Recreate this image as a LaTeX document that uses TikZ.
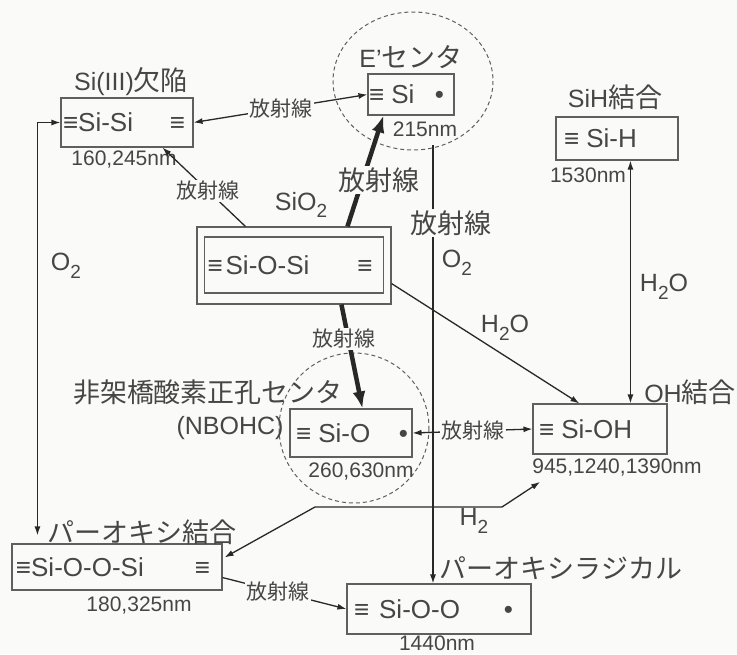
\documentclass[tikz,border=0pt]{standalone}
\usepackage{fontspec}
\setmainfont{Liberation Sans}
\newfontfamily\jp{Noto Sans CJK JP}
\usetikzlibrary{arrows.meta,calc}
\definecolor{bg}{RGB}{250,250,248}
\definecolor{ink}{RGB}{70,70,70}
\definecolor{ln}{RGB}{40,40,40}
\definecolor{bord}{RGB}{95,95,95}
\newcommand\fsz[1]{\fontsize{#1}{#1}\selectfont}
\newcommand\sbs[1]{\raisebox{-0.3em}{\fsz{19}#1}}
\newcommand\jt[1]{{\jp\fsz{27}#1}}
\newcommand\bx[5]{\makebox[#1pt][l]{\hspace{#2pt}#3\hfill#4\hspace{#5pt}}}
\begin{document}
\begin{tikzpicture}[x=1pt,y=-1pt,
  box/.style={draw=bord, line width=1.1pt, fill=bg, inner sep=0pt, text=ink, font=\fsz{26}},
  lbl/.style={text=ink, inner sep=1pt, font=\fsz{25}},
  nm/.style={text=ink, inner sep=1pt, font=\fsz{21}},
  rad/.style={fill=bg, text=ink, inner sep=1.5pt, font=\jp\fsz{21}},
  radL/.style={fill=bg, text=ink, inner sep=1.5pt, font=\jp\fsz{27}},
  ring/.style={draw=bord, line width=1pt, dash pattern=on 4pt off 3pt},
  arr/.style={draw=ln, line width=1.3pt, -{Latex[length=9pt,width=6pt]}},
  arrb/.style={draw=ln, line width=1.3pt, {Latex[length=9pt,width=6pt]}-{Latex[length=9pt,width=6pt]}},
  thk/.style={draw=ln, line width=4.5pt, -{Latex[length=17pt,width=13pt]}}
]
\fill[bg] (0,0) rectangle (737,654);
\useasboundingbox (0,0) rectangle (737,654);

% dashed rings
\draw[ring] (413,81) ellipse [x radius=80, y radius=69];
\draw[ring] (354,428) circle (75);

% boxes
\node[box, minimum height=49pt] (SiSi) at (127,122.5) {\bx{132}{2}{≡Si-Si}{≡}{8}};
\node[box, minimum height=41pt] (Ep) at (411,94.5) {\bx{86}{1}{≡ Si}{•}{10}};
\node[box, minimum height=43pt] (SiH) at (617,138.5) {\bx{122}{8}{≡ Si-H}{}{0}};
\node[box, minimum width=194pt, minimum height=77pt] (SiO2o) at (294,265.5) {};
\node[box, minimum height=56pt] (SiO2) at (294,265) {\bx{179}{3}{≡\hspace{3pt}Si-O-Si}{≡}{11}};
\node[box, minimum height=48pt] (SiO) at (351,433) {\bx{122}{6}{≡ Si-O}{•}{4}};
\node[box, minimum height=50pt] (SiOH) at (600,429) {\bx{134}{6}{≡ Si-OH}{}{0}};
\node[box, minimum height=46pt] (SiOOSi) at (117,567) {\bx{210}{4}{≡Si-O-O-Si}{≡}{12}};
\node[box, minimum height=50pt] (SiOO) at (439,609) {\bx{184}{7}{≡\hspace{10pt}Si-O-O}{•}{18}};

% titles and wavelengths
\node[lbl] (tSiSi) at (131,82) {Si(III)\jt{欠陥}};
\node[nm] (wSiSi) at (124,160) {160,245nm};
\node[lbl] (tEp) at (411,57) {E’\jt{センタ}};
\node[nm] (wEp) at (425,129) {215nm};
\node[lbl] (tSiH) at (615,97) {SiH\jt{結合}};
\node[nm] (wSiH) at (588,175) {1530nm};
\node[lbl] (tSiO2) at (301,205) {SiO\sbs{2}};
\node[lbl] (tNB1) at (208,392) {\jt{非架橋酸素正孔センタ}};
\node[lbl] (tNB2) at (230,428) {(NBOHC)};
\node[nm] (wSiO) at (361,472) {260,630nm};
\node[lbl] (tOH) at (690,392) {OH\jt{結合}};
\node[nm] (wOH) at (617,468) {945,1240,1390nm};
\node[lbl] (tPO) at (142,532) {\jt{パーオキシ結合}};
\node[nm] (wPO) at (139,606) {180,325nm};
\node[lbl] (tPR) at (561,568) {\jt{パーオキシラジカル}};
\node[nm] (wPR) at (437,643) {1440nm};

% connectors
\draw[arrb] (SiSi.east) -- node[rad]{放射線} (Ep.west);
\draw[arr] ($(SiO2o.north west)+(49,0)$) -- node[rad,pos=0.45]{放射線} ($(SiSi.south west)+(102,0)$);
\draw[thk] ($(SiO2o.north west)+(151,0)$) -- node[radL,pos=0.42,xshift=16pt]{放射線} ($(Ep.south west)+(16,0)$);
\draw[thk] ($(SiO2o.south west)+(145,0)$) -- node[rad,pos=0.33,xshift=-4pt]{放射線} ($(SiO.north west)+(73,0)$);
\draw[arr] ($(SiO2o.south east)+(0,-21)$) -- ($(SiOH.north west)+(47,0)$);
\node[lbl] (lH2Oa) at (505,328) {H\sbs{2}O};

\coordinate (v1) at (433,145);
\draw[arr] (v1) -- node[radL,pos=0.178,xshift=18pt]{放射線} (v1 |- SiOO.north);
\node[lbl] (lO2a) at (457,263) {O\sbs{2}};

\draw[arrb] (SiO.east) -- node[rad]{放射線} (SiOH.west);
\draw[arrb] ($(SiH.south west)+(75,0)$) -- ($(SiOH.north west)+(98,0)$);
\node[lbl] (lH2Ob) at (664,287) {H\sbs{2}O};

\draw[arrb] (SiSi.west) -| ($(SiOOSi.north west)+(26,-8)$);
\node[lbl] (lO2b) at (66,266) {O\sbs{2}};

\coordinate (h2a) at (315,507);
\coordinate (h2b) at (502,507);
\draw[arrb] ($(SiOOSi.north east)+(2,14)$) -- (h2a) -- (h2b) -- ($(wOH.south west)+(9,4)$);
\node[lbl] (lH2) at (474,521) {H\sbs{2}};

\draw[arr] ($(SiOOSi.south east)+(0,-13)$) -- node[rad,pos=0.45]{放射線} (SiOO.west);
\end{tikzpicture}
\end{document}
